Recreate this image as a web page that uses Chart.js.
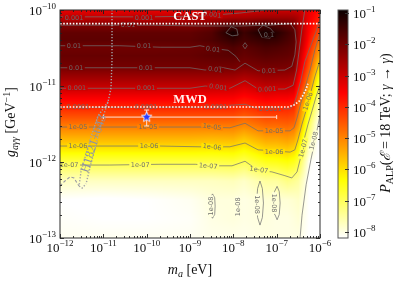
<!DOCTYPE html>
<html>
<head>
<meta charset="utf-8">
<script src="https://cdn.jsdelivr.net/npm/chart.js@4.4.1/dist/chart.umd.min.js"></script>
<style>
  html, body { margin: 0; padding: 0; background: #fff; }
  canvas { display: block; }
</style>
</head>
<body>
<canvas id="chart" width="399" height="282"></canvas>
<script>
// ---- data (log10 values) ----

// grid columns: log10(m_a / eV)
const maExp = [-12, -11, -10, -9, -8.5, -8, -7.75, -7.25, -7, -6.75, -6.6, -6.5, -6.25, -6];
// grid rows: log10(g / GeV^-1), top to bottom
const gExp = [-10, -10.1, -10.2, -10.3, -10.4, -10.5, -10.6, -10.75, -11, -11.25, -11.5, -11.75, -12, -12.25, -12.5, -12.75, -13];
// log10 P_ALP, one row per gExp entry, one value per maExp entry
const logP = [
  [-3.3, -3.3, -3.3, -3.3, -3.2, -3.1, -3.1, -3.0, -3.0, -3.0, -3.0, -3.0, -3.3, -3.8],
  [-2.9, -2.9, -2.9, -2.9, -2.8, -2.6, -2.6, -2.5, -2.5, -2.5, -2.55, -2.7, -3.4, -3.9],
  [-2.2, -2.2, -2.2, -2.2, -2.0, -1.6, -1.8, -1.5, -1.7, -1.85, -2.0, -2.5, -3.5, -4.1],
  [-1.85, -1.85, -1.85, -1.85, -1.7, -1.0, -1.45, -1.0, -1.2, -1.5, -1.7, -2.4, -3.6, -4.4],
  [-1.8, -1.8, -1.8, -1.8, -1.65, -1.35, -1.55, -1.35, -1.4, -1.6, -1.75, -2.45, -3.75, -4.8],
  [-2.0, -2.0, -2.0, -1.95, -1.9, -1.65, -1.8, -1.6, -1.65, -1.75, -1.85, -2.55, -3.95, -5.2],
  [-1.9, -1.9, -1.9, -1.9, -1.8, -1.75, -1.9, -1.75, -1.8, -1.85, -1.95, -2.7, -4.2, -5.5],
  [-2.05, -2.05, -2.05, -2.05, -2.05, -2.05, -2.15, -2.05, -2.05, -2.1, -2.2, -2.95, -4.5, -6.1],
  [-2.9, -2.9, -2.9, -2.9, -2.9, -2.95, -3.1, -2.85, -2.9, -2.9, -3.0, -3.7, -5.2, -7.0],
  [-3.85, -3.85, -3.85, -3.85, -3.85, -3.85, -4.0, -3.8, -3.85, -3.85, -3.95, -4.6, -6.3, -7.75],
  [-4.8, -4.8, -4.8, -4.8, -4.8, -4.8, -4.95, -4.65, -4.65, -4.6, -4.7, -5.15, -7.0, -8.3],
  [-5.75, -5.75, -5.75, -5.75, -5.8, -5.75, -5.95, -5.55, -5.55, -5.45, -5.6, -6.0, -7.55, -8.3],
  [-6.85, -6.85, -6.85, -6.85, -6.85, -6.8, -6.95, -6.55, -6.5, -6.4, -6.55, -6.8, -8.1, -8.3],
  [-7.75, -7.75, -7.75, -7.75, -7.75, -7.7, -7.8, -7.5, -7.5, -7.3, -7.4, -7.5, -8.2, -8.3],
  [-8.2, -8.25, -8.2, -8.1, -7.95, -7.95, -8.0, -7.9, -7.9, -7.9, -7.85, -7.8, -8.2, -8.3],
  [-8.15, -8.2, -8.2, -8.15, -8.0, -7.95, -8.0, -7.95, -8.0, -8.0, -7.95, -7.9, -8.2, -8.3],
  [-8.1, -8.1, -8.1, -8.1, -8.05, -8.05, -8.05, -8.0, -8.0, -8.0, -8.0, -8.0, -8.2, -8.3]
];

// colour bar range (log10 P)
const cbMin = -8.2, cbMax = -0.9;
const xTickExp = [-12, -11, -10, -9, -8, -7, -6];
const yTickExp = [-13, -12, -11, -10];
const cbTickExp = [-1, -2, -3, -4, -5, -6, -7, -8];

// contour lines [log m, log g]
const c1e8 = [[-6.46, -13.0], [-6.415, -12.70], [-6.32, -12.30], [-6.21, -11.97], [-6.09, -11.645], [-6.0, -11.38]];
const c1e7 = [[-12, -12.04], [-10.85, -12.04], [-9.69, -12.03], [-8.88, -12.03], [-8.42, -12.05], [-8.03, -12.05], [-7.73, -11.99], [-7.43, -12.11], [-7.11, -12.13], [-6.81, -12.18], [-6.65, -12.21], [-6.53, -12.13], [-6.46, -11.97], [-6.37, -11.71], [-6.28, -11.51], [-6.18, -11.32], [-6.09, -11.14], [-6.0, -10.99]];
const c1e6 = [[-12, -11.79], [-9.69, -11.79], [-8.77, -11.80], [-8.08, -11.80], [-7.73, -11.75], [-7.43, -11.84], [-7.04, -11.855], [-6.69, -11.87], [-6.58, -11.84], [-6.51, -11.71], [-6.42, -11.51], [-6.32, -11.32], [-6.23, -11.12], [-6.12, -10.88], [-6.0, -10.66]];
const c1e5 = [[-12, -11.54], [-9.69, -11.54], [-8.77, -11.54], [-8.08, -11.55], [-7.73, -11.49], [-7.43, -11.59], [-6.69, -11.59], [-6.60, -11.55], [-6.53, -11.42], [-6.44, -11.22], [-6.35, -11.03], [-6.23, -10.79], [-6.12, -10.53], [-6.0, -10.30]];
const c1e4 = [[-12, -11.28], [-8.77, -11.28], [-7.73, -11.24], [-7.43, -11.30], [-6.69, -11.30], [-6.60, -11.24], [-6.53, -11.12], [-6.44, -10.92], [-6.35, -10.68], [-6.22, -10.48], [-6.1, -10.3], [-6.0, -10.12]];
const c1e3 = [[-12, -11.03], [-9, -11.03], [-8.65, -11.0], [-8.08, -11.03], [-7.73, -10.93], [-7.43, -11.04], [-6.81, -11.04], [-6.62, -10.99], [-6.54, -10.79], [-6.48, -10.53], [-6.42, -10.26], [-6.35, -10.0]];
const c1e2 = [[-12, -10.76], [-9, -10.76], [-8.65, -10.79], [-8.31, -10.75], [-7.96, -10.79], [-7.73, -10.70], [-7.43, -10.80], [-6.81, -10.79], [-6.65, -10.74], [-6.58, -10.59], [-6.55, -10.42], [-6.58, -10.26], [-6.68, -10.18], [-7.15, -10.20], [-7.85, -10.21], [-8.77, -10.21], [-9.92, -10.20], [-11.08, -10.20], [-12, -10.20]];
const c1e2mid = [[-12, -10.47], [-10.62, -10.47], [-9.69, -10.49], [-9, -10.49], [-8.77, -10.47], [-8.42, -10.51], [-8.12, -10.53], [-7.94, -10.61], [-7.85, -10.68]];
const c1e3top = [[-12, -10.09], [-9.92, -10.09], [-8.77, -10.08], [-7.85, -10.04], [-7.38, -10.01], [-7.27, -10.0]];
const c1e1a = [[-8.17, -10.30], [-8.05, -10.22], [-7.92, -10.25], [-7.89, -10.33], [-8.03, -10.34], [-8.17, -10.30]];
const c1e1b = [[-7.43, -10.26], [-7.31, -10.20], [-7.15, -10.24], [-7.06, -10.30], [-7.15, -10.37], [-7.34, -10.36], [-7.43, -10.26]];
const c1e2dot = [[-7.78, -10.47], [-7.73, -10.43], [-7.68, -10.47], [-7.73, -10.51], [-7.78, -10.47]];
const isl1 = [[-8.48, -12.42], [-8.43, -12.47], [-8.42, -12.58], [-8.43, -12.69], [-8.48, -12.74], [-8.53, -12.69], [-8.54, -12.58], [-8.53, -12.47], [-8.48, -12.42]];
const isl3 = [[-7.385, -12.25], [-7.33, -12.35], [-7.305, -12.54], [-7.33, -12.73], [-7.385, -12.83], [-7.44, -12.73], [-7.465, -12.54], [-7.44, -12.35], [-7.385, -12.25]];
const isl4 = [[-6.99, -12.32], [-6.94, -12.39], [-6.92, -12.54], [-6.94, -12.69], [-6.99, -12.76], [-7.04, -12.69], [-7.06, -12.54], [-7.04, -12.39], [-6.99, -12.32]];

// contour labels [log m, log g, text, angle deg]
const contourLabels = [
  [-11.677, -10.105, '0.001', 0], [-10.06, -10.105, '0.001', 0], [-8.49, -10.06, '0.001', 8],
  [-10.43, -10.20, '0.01', 0],
  [-11.677, -10.474, '0.01', 0], [-10.06, -10.474, '0.01', 0], [-8.47, -10.515, '0.01', 8],
  [-11.63, -10.763, '0.01', 0], [-10.015, -10.763, '0.01', 0], [-8.42, -10.78, '0.01', 8], [-7.18, -10.80, '0.01', -3],
  [-11.61, -11.03, '0.001', 0], [-10.015, -11.03, '0.001', 0], [-8.35, -11.015, '0.001', 8], [-7.22, -11.04, '0.001', -3],
  [-11.585, -11.28, '0.0001', 0], [-10.015, -11.28, '0.0001', 0], [-8.40, -11.28, '0.0001', 0], [-7.15, -11.30, '0.0001', 0],
  [-11.585, -11.54, '1e-05', 0], [-9.97, -11.54, '1e-05', 0], [-8.49, -11.535, '1e-05', 8], [-7.06, -11.59, '1e-05', 0],
  [-11.585, -11.79, '1e-06', 0], [-9.946, -11.79, '1e-06', 0], [-8.49, -11.80, '1e-06', 8], [-7.06, -11.86, '1e-06', 0],
  [-11.79, -12.04, '1e-07', 0], [-10.15, -12.04, '1e-07', 0], [-8.58, -12.05, '1e-07', 5], [-7.41, -12.10, '1e-07', 8],
  [-6.39, -11.82, '1e-07', -75], [-6.15, -11.72, '1e-08', -75], [-6.28, -11.20, '1e-06', -72],
  [-7.18, -10.33, '0.1', 0],
  [-8.52, -12.58, '1e-08', -90], [-7.89, -12.59, '1e-08', -90], [-7.44, -12.56, '1e-08', 90], [-7.05, -12.54, '1e-08', 90]
];

// exclusion lines
const castG = [[-12, -10.18], [-6, -10.18]];
const mwdG = [[-12, -11.276], [-6.74, -11.276], [-6.6, -11.25], [-6.48, -11.2], [-6.39, -11.12], [-6.32, -11.04], [-6.28, -10.97]];
const h1821Right = [[-10.80, -10.0], [-10.80, -10.658], [-10.823, -11.026], [-10.892, -11.21], [-10.985, -11.368], [-11.10, -11.605], [-11.215, -11.868], [-11.331, -12.13], [-11.40, -12.29]];
const h1821Left = [[-10.892, -11.21], [-11.123, -11.395], [-11.262, -11.63], [-11.40, -11.895], [-11.515, -12.13], [-11.56, -12.316], [-11.49, -12.342], [-11.40, -12.29]];
const h1821Low = [[-12, -12.316], [-11.885, -12.25], [-11.77, -12.197], [-11.677, -12.21], [-11.608, -12.276], [-11.56, -12.316]];

// best-fit point and its error bars
const bestM = 1e-10, bestG = 3.9e-12;
const errM = [1e-11, 1e-7];
const errG = [2.98e-12, 4.83e-12];

// ---- helpers ----
const clamp = (v, a, b) => Math.max(a, Math.min(b, v));
const toPts = arr => arr.map(p => ({ x: Math.pow(10, p[0]), y: Math.pow(10, p[1]) }));
const serif = '"Liberation Serif", "DejaVu Serif", serif';

function field(lm, lg) {
  let i = 0;
  while (i < maExp.length - 2 && lm > maExp[i + 1]) i++;
  let j = 0;
  while (j < gExp.length - 2 && lg < gExp[j + 1]) j++;
  const tx = clamp((lm - maExp[i]) / (maExp[i + 1] - maExp[i]), 0, 1);
  const ty = clamp((lg - gExp[j]) / (gExp[j + 1] - gExp[j]), 0, 1);
  const a = logP[j][i], b = logP[j][i + 1], c = logP[j + 1][i], d = logP[j + 1][i + 1];
  return a * (1 - tx) * (1 - ty) + b * tx * (1 - ty) + c * (1 - tx) * ty + d * tx * ty;
}

// matplotlib "hot_r"
function hotR(v) {
  const s = 1 - clamp((v - cbMin) / (cbMax - cbMin), 0, 1);
  const r = s < 0.365079 ? 0.0416 + (1 - 0.0416) * s / 0.365079 : 1;
  const g = clamp((s - 0.365079) / (0.746032 - 0.365079), 0, 1);
  const b = clamp((s - 0.746032) / (1 - 0.746032), 0, 1);
  return [Math.round(r * 255), Math.round(g * 255), Math.round(b * 255)];
}

function rich(ctx, parts, x, y, align, rot) {
  ctx.save();
  ctx.translate(x, y);
  if (rot) ctx.rotate(rot);
  ctx.textBaseline = 'alphabetic';
  ctx.textAlign = 'left';
  let total = 0;
  const ws = parts.map(p => { ctx.font = p[1]; const w = ctx.measureText(p[0]).width; total += w; return w; });
  let cx = align === 'right' ? -total : align === 'center' ? -total / 2 : 0;
  parts.forEach((p, k) => {
    ctx.font = p[1];
    ctx.fillText(p[0], cx, p[2] || 0);
    cx += ws[k];
  });
  ctx.restore();
}

function starImage(r) {
  const c = document.createElement('canvas');
  const s = Math.ceil(2 * r + 4);
  c.width = c.height = s;
  const g = c.getContext('2d');
  g.beginPath();
  for (let k = 0; k < 10; k++) {
    const rr = k % 2 === 0 ? r : r * 0.45;
    const a = -Math.PI / 2 + k * Math.PI / 5;
    g.lineTo(s / 2 + rr * Math.cos(a), s / 2 + rr * Math.sin(a));
  }
  g.closePath();
  g.fillStyle = '#2a3cff';
  g.fill();
  g.lineWidth = 0.9;
  g.strokeStyle = '#ffffff';
  g.stroke();
  return c;
}

// ---- datasets ----
const contourStyle = { showLine: true, pointRadius: 0, borderWidth: 0.8, borderColor: 'rgba(112,112,112,0.9)', fill: false, tension: 0 };
const datasets = [
  { data: [{ x: bestM, y: bestG }], pointStyle: starImage(5.5), pointRadius: 6 },
  { data: [{ x: bestM, y: errG[0] }, { x: bestM, y: errG[1] }], showLine: true, borderColor: '#ffe2d6', borderWidth: 1,
    pointStyle: 'line', pointRadius: 2.5, pointBorderColor: '#ffe2d6', pointBorderWidth: 1 },
  { data: [{ x: errM[0], y: bestG }, { x: errM[1], y: bestG }], showLine: true, borderColor: '#ffe2d6', borderWidth: 1,
    pointStyle: 'line', pointRotation: 90, pointRadius: 2, pointBorderColor: '#ffe2d6', pointBorderWidth: 1 },
  { data: toPts(castG), showLine: true, pointRadius: 0, borderColor: '#ffffff', borderWidth: 1.7, borderDash: [1.6, 1.6] },
  { data: toPts(mwdG), showLine: true, pointRadius: 0, borderColor: '#fff4f0', borderWidth: 1.7, borderDash: [1.6, 1.6] },
  { data: toPts(h1821Right), showLine: true, pointRadius: 0, borderColor: '#a3a3a8', borderWidth: 1.4, borderDash: [1.3, 1.7] },
  { data: toPts(h1821Left), showLine: true, pointRadius: 0, borderColor: '#a3a3a8', borderWidth: 1.4, borderDash: [1.3, 1.7] },
  { data: toPts(h1821Low), showLine: true, pointRadius: 0, borderColor: '#9a9aa2', borderWidth: 1.1, borderDash: [3, 2] }
];
const firstContour = datasets.length;
[c1e3top, c1e2, c1e2mid, c1e2dot, c1e1a, c1e1b, c1e3, c1e4, c1e5, c1e6, c1e7, c1e8, isl1, isl3, isl4].forEach(c => {
  datasets.push(Object.assign({ data: toPts(c) }, contourStyle));
});

// ---- plugins ----
const heatPlugin = {
  id: 'heat',
  beforeDatasetsDraw(chart) {
    const { ctx, chartArea: a, scales } = chart;
    const w = Math.round(a.right - a.left), h = Math.round(a.bottom - a.top);
    const off = document.createElement('canvas');
    off.width = w; off.height = h;
    const octx = off.getContext('2d');
    const img = octx.createImageData(w, h);
    for (let py = 0; py < h; py++) {
      const lg = Math.log10(scales.y.getValueForPixel(a.top + py + 0.5));
      for (let px = 0; px < w; px++) {
        const lm = Math.log10(scales.x.getValueForPixel(a.left + px + 0.5));
        const c = hotR(field(lm, lg));
        const k = (py * w + px) * 4;
        img.data[k] = c[0]; img.data[k + 1] = c[1]; img.data[k + 2] = c[2]; img.data[k + 3] = 255;
      }
    }
    octx.putImageData(img, 0, 0);
    chart.$heat = { img, w, h };
    ctx.drawImage(off, a.left, a.top);

    // colour bar
    const cb = scales.cb;
    const x0 = a.right + 18, bw = 10;
    for (let y = Math.round(a.top); y < Math.round(a.bottom); y++) {
      const c = hotR(Math.log10(cb.getValueForPixel(y + 0.5)));
      ctx.fillStyle = 'rgb(' + c.join(',') + ')';
      ctx.fillRect(x0, y, bw, 1);
    }
  },
  afterDatasetDraw(chart, args) {
    if (args.index !== firstContour) return;
    const { ctx, chartArea: a, scales } = chart;
    const heat = chart.$heat;
    ctx.save();
    ctx.beginPath();
    ctx.rect(a.left, a.top, a.right - a.left, a.bottom - a.top);
    ctx.clip();
    ctx.font = '6.5px "DejaVu Sans", sans-serif';
    ctx.textAlign = 'center';
    ctx.textBaseline = 'middle';
    contourLabels.forEach(l => {
      const px = scales.x.getPixelForValue(Math.pow(10, l[0]));
      const py = scales.y.getPixelForValue(Math.pow(10, l[1]));
      const ix = clamp(Math.round(px - a.left), 0, heat.w - 1);
      const iy = clamp(Math.round(py - a.top), 0, heat.h - 1);
      const k = (iy * heat.w + ix) * 4;
      const bg = 'rgb(' + heat.img.data[k] + ',' + heat.img.data[k + 1] + ',' + heat.img.data[k + 2] + ')';
      const tw = ctx.measureText(l[2]).width;
      ctx.save();
      ctx.translate(px, py);
      ctx.rotate(l[3] * Math.PI / 180);
      ctx.fillStyle = bg;
      ctx.fillRect(-tw / 2 - 1.5, -2.5, tw + 3, 5);
      ctx.fillStyle = 'rgba(105,105,105,0.95)';
      ctx.fillText(l[2], 0, 0.5);
      ctx.restore();
    });
    ctx.restore();
  },
  afterDatasetsDraw(chart) {
    const { ctx, scales } = chart;
    const xc = scales.x.getPixelForValue(1e-9);
    ctx.save();
    ctx.fillStyle = '#ffffff';
    ctx.font = 'bold 12.5px ' + serif;
    ctx.textAlign = 'center';
    ctx.textBaseline = 'alphabetic';
    ctx.fillText('CAST', xc, scales.y.getPixelForValue(Math.pow(10, castG[0][1])) - 3.5);
    ctx.fillStyle = '#fff2ee';
    ctx.fillText('MWD', xc, scales.y.getPixelForValue(Math.pow(10, mwdG[0][1])) - 3.5);
    // H1821+643 label along the band
    const hx = scales.x.getPixelForValue(Math.pow(10, -11.22));
    const hy = scales.y.getPixelForValue(Math.pow(10, -11.76));
    ctx.translate(hx, hy);
    ctx.rotate(-72 * Math.PI / 180);
    ctx.fillStyle = '#8d93a0';
    ctx.font = '12.5px ' + serif;
    ctx.textBaseline = 'middle';
    ctx.fillText('H1821+643', 0, 0);
    ctx.restore();
  },
  afterDraw(chart) {
    const { ctx, chartArea: a, scales } = chart;
    const xs = scales.x, ys = scales.y, cb = scales.cb;
    ctx.save();
    ctx.strokeStyle = '#1e1e1e';
    ctx.lineWidth = 0.9;
    // ticks, pointing in, all four sides
    const tick = (x1, y1, x2, y2) => { ctx.beginPath(); ctx.moveTo(x1, y1); ctx.lineTo(x2, y2); ctx.stroke(); };
    for (let e = -12; e <= -6; e++) {
      const px = Math.round(xs.getPixelForValue(Math.pow(10, e))) + 0.5;
      tick(px, a.bottom, px, a.bottom - 4); tick(px, a.top, px, a.top + 4);
      if (e < -6) for (let n = 2; n <= 9; n++) {
        const q = Math.round(xs.getPixelForValue(n * Math.pow(10, e))) + 0.5;
        tick(q, a.bottom, q, a.bottom - 2); tick(q, a.top, q, a.top + 2);
      }
    }
    for (let e = -13; e <= -10; e++) {
      const py = Math.round(ys.getPixelForValue(Math.pow(10, e))) + 0.5;
      tick(a.left, py, a.left + 4, py); tick(a.right, py, a.right - 4, py);
      if (e < -10) for (let n = 2; n <= 9; n++) {
        const q = Math.round(ys.getPixelForValue(n * Math.pow(10, e))) + 0.5;
        tick(a.left, q, a.left + 2, q); tick(a.right, q, a.right - 2, q);
      }
    }
    // frame
    ctx.strokeStyle = '#2a2a2a';
    ctx.lineWidth = 1;
    ctx.strokeRect(a.left, a.top, a.right - a.left, a.bottom - a.top);

    // colour bar frame and ticks
    const x0 = a.right + 18, bw = 10;
    ctx.strokeStyle = '#555';
    ctx.strokeRect(x0, a.top, bw, a.bottom - a.top);
    ctx.strokeStyle = '#333';
    cbTickExp.forEach(e => {
      const py = Math.round(cb.getPixelForValue(Math.pow(10, e))) + 0.5;
      tick(x0 + bw - 3, py, x0 + bw + 1, py);
    });

    // tick labels
    ctx.fillStyle = '#111';
    const big = '13px ' + serif, sup = '9px ' + serif;
    xTickExp.forEach(e => {
      rich(ctx, [['10', big, 0], ['\u2212' + Math.abs(e), sup, -6]], xs.getPixelForValue(Math.pow(10, e)), a.bottom + 14, 'center');
    });
    yTickExp.forEach(e => {
      rich(ctx, [['10', big, 0], ['\u2212' + Math.abs(e), sup, -6]], a.left - 4, ys.getPixelForValue(Math.pow(10, e)) + 5, 'right');
    });
    cbTickExp.forEach(e => {
      rich(ctx, [['10', big, 0], ['\u2212' + Math.abs(e), sup, -6]], x0 + bw + 5, cb.getPixelForValue(Math.pow(10, e)) + 5, 'left');
    });

    // axis titles
    const it14 = 'italic 14px ' + serif, r14 = '14px ' + serif, it10 = 'italic 10px ' + serif, r10 = '10px ' + serif;
    rich(ctx, [['m', it14, 0], ['a', it10, 3], [' [eV]', r14, 0]], (a.left + a.right) / 2, 274, 'center');
    rich(ctx, [['g', it14, 0], ['a\u03b3\u03b3', it10, 3], [' [GeV', r14, 0], ['\u22121', r10, -5], [']', r14, 0]],
      15, (a.top + a.bottom) / 2 - 2, 'center', -Math.PI / 2);
    rich(ctx, [['P', it14, 0], ['ALP', r10, 3], ['(', r14, 0], ['\u2130', it14, 0], [' = 18 TeV; ', r14, 0],
      ['\u03b3', it14, 0], [' \u2192 ', r14, 0], ['\u03b3', it14, 0], [')', r14, 0]],
      390, (a.top + a.bottom) / 2 - 1, 'center', -Math.PI / 2);
    ctx.restore();
  }
};

new Chart(document.getElementById('chart'), {
  type: 'scatter',
  data: { datasets: datasets },
  options: {
    responsive: false,
    animation: false,
    events: [],
    layout: { padding: { left: 60, right: 79, top: 10, bottom: 44 } },
    scales: {
      x: { type: 'logarithmic', min: 1e-12, max: 1e-6, display: false },
      y: { type: 'logarithmic', min: 1e-13, max: 1e-10, display: false },
      cb: { type: 'logarithmic', position: 'right', min: Math.pow(10, cbMin), max: Math.pow(10, cbMax), display: false }
    },
    plugins: { legend: { display: false }, tooltip: { enabled: false } }
  },
  plugins: [heatPlugin]
});
</script>
</body>
</html>
